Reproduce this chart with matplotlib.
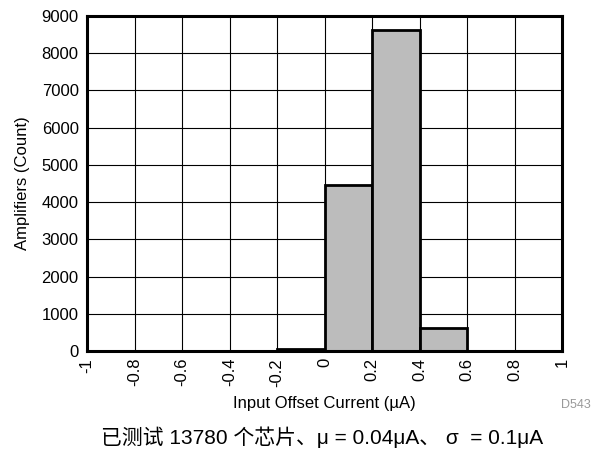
import matplotlib
matplotlib.use("Agg")
import matplotlib.pyplot as plt

plt.rcParams['font.family'] = ['Liberation Sans', 'Noto Sans CJK SC', 'DejaVu Sans']

bin_edges = [-0.2, 0.0, 0.2, 0.4]
counts = [60, 4460, 8620, 620]
bin_width = 0.2
x_ticks = [-1, -0.8, -0.6, -0.4, -0.2, 0, 0.2, 0.4, 0.6, 0.8, 1]
x_labels = ["-1", "-0.8", "-0.6", "-0.4", "-0.2", "0", "0.2", "0.4", "0.6", "0.8", "1"]
y_ticks = [0, 1000, 2000, 3000, 4000, 5000, 6000, 7000, 8000, 9000]

fig = plt.figure(figsize=(5.93, 4.51), dpi=100)
ax = fig.add_axes([87 / 593, 1 - 351 / 451, (562 - 87) / 593, (351 - 16) / 451])

ax.bar(bin_edges, counts, width=bin_width, align="edge", color="#bcbcbc",
       edgecolor="black", linewidth=2, zorder=3)

ax.set_xlim(-1, 1)
ax.set_ylim(0, 9000)
ax.set_xticks(x_ticks)
ax.set_xticklabels(x_labels, rotation=90, fontsize=12)
ax.set_yticks(y_ticks)
ax.tick_params(axis="y", labelsize=12, length=0, pad=6)
ax.tick_params(axis="x", length=0, pad=5)
ax.grid(True, color="black", linewidth=0.8, zorder=0)
for s in ax.spines.values():
    s.set_linewidth(2.2)
    s.set_zorder(4)

ax.set_xlabel("Input Offset Current (\u00b5A)", fontsize=12, labelpad=7)
ax.set_ylabel("Amplifiers (Count)", fontsize=12, labelpad=8)

fig.text(591 / 593, 1 - 405 / 451, "D543", fontsize=9, color="#999999", ha="right", va="center")
fig.text(322 / 593, 1 - 437 / 451, "已测试 13780 个芯片、μ = 0.04μA、 σ  = 0.1μA",
         fontsize=15, ha="center", va="center")

fig.savefig("out.png", dpi=100)
